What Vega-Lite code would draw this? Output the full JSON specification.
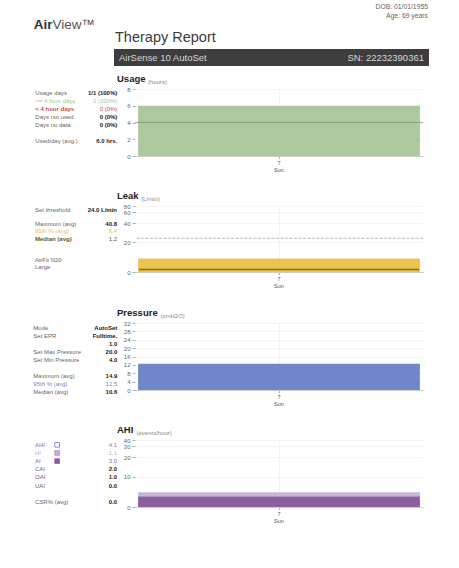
{
  "$schema": "https://vega.github.io/schema/vega-lite/v6.json",
  "background": "white",
  "padding": {"left": 33, "top": 3, "right": 0, "bottom": 0},
  "bounds": "flush",
  "spacing": 86,
  "vconcat": [
    {
      "bounds": "flush",
      "spacing": 42,
      "hconcat": [
        {
          "width": 39,
          "height": 44,
          "layer": [
            {
              "data": {"values": [{"t": "Air"}]},
              "mark": {"type": "text", "align": "right", "baseline": "middle", "fontSize": 13.5, "fontWeight": "bold", "color": "#333333"},
              "encoding": {"text": {"field": "t"}}
            },
            {
              "data": {"values": [{"t": "View™"}]},
              "mark": {"type": "text", "align": "left", "baseline": "middle", "fontSize": 13.5, "color": "#555555"},
              "encoding": {"text": {"field": "t"}}
            }
          ]
        },
        {
          "bounds": "flush",
          "spacing": 26,
          "vconcat": [
            {
              "width": 315,
              "height": 20,
              "data": {"values": [{"line": "DOB: 01/01/1955"}, {"line": "Age: 69 years"}]},
              "mark": {"type": "text", "align": "right", "baseline": "middle", "fontSize": 6.8, "color": "#666666", "dx": -1},
              "encoding": {
                "x": {"value": "width"},
                "y": {"field": "line", "type": "nominal", "scale": {"type": "point", "padding": 0, "domain": ["DOB: 01/01/1955", "Age: 69 years"], "range": [3.7, 13]}, "axis": null},
                "text": {"field": "line"}
              }
            },
            {
              "width": 315,
              "height": 17,
              "view": {"fill": "#3d3d3d"},
              "title": {"text": "Therapy Report", "fontSize": 14.5, "fontWeight": "normal", "color": "#3a3a3a", "offset": 4, "dx": 1},
              "layer": [
                {
                  "data": {"values": [{"t": "AirSense 10 AutoSet"}]},
                  "mark": {"type": "text", "align": "left", "baseline": "middle", "fontSize": 9.5, "color": "#d8d8d8"},
                  "encoding": {"text": {"field": "t"}, "x": {"datum": 0, "type": "quantitative", "scale": {"domain": [0, 1], "range": [5, 310]}, "axis": null}}
                },
                {
                  "data": {"values": [{"t": "SN: 22232390361"}]},
                  "mark": {"type": "text", "align": "right", "baseline": "middle", "fontSize": 9.5, "color": "#d8d8d8"},
                  "encoding": {"text": {"field": "t"}, "x": {"datum": 1, "type": "quantitative", "scale": {"domain": [0, 1], "range": [5, 310]}, "axis": null}}
                }
              ]
            }
          ]
        }
      ]
    },
    {
      "bounds": "flush",
      "spacing": 117,
      "vconcat": [
        {
          "bounds": "flush",
          "spacing": 18,
          "hconcat": [
            {
              "width": 84,
              "height": 67,
              "data": {"values": [
                {"item": "Usage days", "value": "1/1 (100%)", "key": "plain"},
                {"item": ">= 4 hour days", "value": "1 (100%)", "key": "usage-ok"},
                {"item": "< 4 hour days", "value": "0 (0%)", "key": "usage-short"},
                {"item": "Days not used", "value": "0 (0%)", "key": "plain"},
                {"item": "Days no data", "value": "0 (0%)", "key": "plain"},
                {"item": "Used/day (avg.)", "value": "6.0 hrs.", "key": "plain"}
              ]},
              "encoding": {
                "y": {"field": "item", "type": "nominal", "scale": {"type": "point", "padding": 0, "domain": ["Usage days", ">= 4 hour days", "< 4 hour days", "Days not used", "Days no data", "gap", "Used/day (avg.)"], "range": [4.3, 51.7]}, "axis": null}
              },
              "resolve": {"scale": {"color": "independent"}},
              "layer": [
                {
                  "transform": [{"filter": "datum.key != 'usage-short' && datum.key != 'leak-median'"}],
                  "mark": {"type": "text", "align": "left", "baseline": "middle", "fontSize": 6},
                  "encoding": {
                    "x": {"datum": 0, "type": "quantitative", "scale": {"domain": [0, 1], "range": [2.3, 84.3]}, "axis": null},
                    "text": {"field": "item"},
                    "color": {"field": "key", "type": "nominal", "legend": null, "scale": {"domain": ["plain", "usage-ok", "usage-short", "leak-p95", "leak-median", "pressure-p95", "AHI", "HI", "AI"], "range": ["#666666", "#a3c58f", "#c0504d", "#e5c24e", "#5e5a2e", "#6f87c9", "#8a6aa6", "#c2a9d7", "#8a5e9f"]}}
                  }
                },
                {
                  "transform": [{"filter": "datum.key == 'usage-short' || datum.key == 'leak-median'"}],
                  "mark": {"type": "text", "align": "left", "baseline": "middle", "fontSize": 6, "fontWeight": "bold"},
                  "encoding": {
                    "x": {"datum": 0, "type": "quantitative", "scale": {"domain": [0, 1], "range": [2.3, 84.3]}, "axis": null},
                    "text": {"field": "item"},
                    "color": {"field": "key", "type": "nominal", "legend": null, "scale": {"domain": ["plain", "usage-ok", "usage-short", "leak-p95", "leak-median", "pressure-p95", "AHI", "HI", "AI"], "range": ["#666666", "#a3c58f", "#c0504d", "#e5c24e", "#5e5a2e", "#6f87c9", "#8a6aa6", "#c2a9d7", "#8a5e9f"]}}
                  }
                },
                {
                  "transform": [{"filter": "datum.key != 'plain'"}],
                  "mark": {"type": "text", "align": "right", "baseline": "middle", "fontSize": 6},
                  "encoding": {
                    "x": {"datum": 1, "type": "quantitative", "scale": {"domain": [0, 1], "range": [2.3, 84.3]}, "axis": null},
                    "text": {"field": "value"},
                    "color": {"field": "key", "type": "nominal", "legend": null, "scale": {"domain": ["plain", "usage-ok", "usage-short", "leak-p95", "leak-median", "pressure-p95", "AHI", "HI", "AI"], "range": ["#1a1a1a", "#a3c58f", "#c0504d", "#e5c24e", "#555555", "#6f87c9", "#8d7ba3", "#c2a9d7", "#8a6aa6"]}}
                  }
                },
                {
                  "transform": [{"filter": "datum.key == 'plain'"}],
                  "mark": {"type": "text", "align": "right", "baseline": "middle", "fontSize": 6, "fontWeight": "bold", "color": "#1a1a1a"},
                  "encoding": {
                    "x": {"datum": 1, "type": "quantitative", "scale": {"domain": [0, 1], "range": [2.3, 84.3]}, "axis": null},
                    "text": {"field": "value"}
                  }
                }
              ]
            },
            {
              "width": 288,
              "height": 67,
              "title": {"text": "Usage"},
              "data": {"values": [{"day": "7 Sun", "hours": 6.0}]},
              "layer": [
                {
                  "mark": {"type": "bar", "color": "#abc99c"},
                  "encoding": {
                    "x": {"field": "day", "type": "nominal", "title": null, "scale": {"paddingInner": 0, "paddingOuter": 0.011}, "axis": {"labelExpr": "split(datum.label, ' ')"}},
                    "y": {"field": "hours", "type": "quantitative", "title": "(hours)", "scale": {"domain": [0, 8], "nice": false}, "axis": {"values": [0, 2, 4, 6, 8], "titleX": 12.5}}
                  }
                },
                {
                  "mark": {"type": "rule", "color": "#7f9b72", "strokeWidth": 0.8},
                  "encoding": {"y": {"datum": 4, "type": "quantitative", "title": "(hours)", "scale": {"domain": [0, 8], "nice": false}, "axis": {"values": [0, 2, 4, 6, 8], "titleX": 12.5}}}
                }
              ]
            }
          ]
        },
        {
          "bounds": "flush",
          "spacing": 18,
          "hconcat": [
            {
              "width": 84,
              "height": 66,
              "data": {"values": [
                {"item": "Set threshold", "value": "24.0 L/min", "key": "plain"},
                {"item": "Maximum (avg)", "value": "40.8", "key": "plain"},
                {"item": "95th % (avg)", "value": "6.4", "key": "leak-p95"},
                {"item": "Median (avg)", "value": "1.2", "key": "leak-median"},
                {"item": "AirFit N20", "value": "", "key": "plain"},
                {"item": "Large", "value": "", "key": "plain"}
              ]},
              "encoding": {
                "y": {"field": "item", "type": "nominal", "scale": {"type": "point", "padding": 0, "domain": ["Set threshold", "gap1", "Maximum (avg)", "95th % (avg)", "Median (avg)", "gap2", "gap3", "AirFit N20", "Large"], "range": [3.7, 61.3]}, "axis": null}
              },
              "resolve": {"scale": {"color": "independent"}},
              "layer": [
                {
                  "transform": [{"filter": "datum.key != 'usage-short' && datum.key != 'leak-median'"}],
                  "mark": {"type": "text", "align": "left", "baseline": "middle", "fontSize": 6},
                  "encoding": {
                    "x": {"datum": 0, "type": "quantitative", "scale": {"domain": [0, 1], "range": [2, 84]}, "axis": null},
                    "text": {"field": "item"},
                    "color": {"field": "key", "type": "nominal", "legend": null, "scale": {"domain": ["plain", "usage-ok", "usage-short", "leak-p95", "leak-median", "pressure-p95", "AHI", "HI", "AI"], "range": ["#666666", "#a3c58f", "#c0504d", "#e5c24e", "#5e5a2e", "#6f87c9", "#8a6aa6", "#c2a9d7", "#8a5e9f"]}}
                  }
                },
                {
                  "transform": [{"filter": "datum.key == 'usage-short' || datum.key == 'leak-median'"}],
                  "mark": {"type": "text", "align": "left", "baseline": "middle", "fontSize": 6, "fontWeight": "bold"},
                  "encoding": {
                    "x": {"datum": 0, "type": "quantitative", "scale": {"domain": [0, 1], "range": [2, 84]}, "axis": null},
                    "text": {"field": "item"},
                    "color": {"field": "key", "type": "nominal", "legend": null, "scale": {"domain": ["plain", "usage-ok", "usage-short", "leak-p95", "leak-median", "pressure-p95", "AHI", "HI", "AI"], "range": ["#666666", "#a3c58f", "#c0504d", "#e5c24e", "#5e5a2e", "#6f87c9", "#8a6aa6", "#c2a9d7", "#8a5e9f"]}}
                  }
                },
                {
                  "transform": [{"filter": "datum.key != 'plain'"}],
                  "mark": {"type": "text", "align": "right", "baseline": "middle", "fontSize": 6},
                  "encoding": {
                    "x": {"datum": 1, "type": "quantitative", "scale": {"domain": [0, 1], "range": [2, 84]}, "axis": null},
                    "text": {"field": "value"},
                    "color": {"field": "key", "type": "nominal", "legend": null, "scale": {"domain": ["plain", "usage-ok", "usage-short", "leak-p95", "leak-median", "pressure-p95", "AHI", "HI", "AI"], "range": ["#1a1a1a", "#a3c58f", "#c0504d", "#e5c24e", "#555555", "#6f87c9", "#8d7ba3", "#c2a9d7", "#8a6aa6"]}}
                  }
                },
                {
                  "transform": [{"filter": "datum.key == 'plain'"}],
                  "mark": {"type": "text", "align": "right", "baseline": "middle", "fontSize": 6, "fontWeight": "bold", "color": "#1a1a1a"},
                  "encoding": {
                    "x": {"datum": 1, "type": "quantitative", "scale": {"domain": [0, 1], "range": [2, 84]}, "axis": null},
                    "text": {"field": "value"}
                  }
                }
              ]
            },
            {
              "width": 288,
              "height": 66,
              "title": {"text": "Leak"},
              "data": {"values": [{"day": "7 Sun", "p95": 6.4, "median": 1.2}]},
              "layer": [
                {
                  "mark": {"type": "bar", "color": "#ebc44d"},
                  "encoding": {
                    "x": {"field": "day", "type": "nominal", "title": null, "scale": {"paddingInner": 0, "paddingOuter": 0.011}, "axis": {"labelExpr": "split(datum.label, ' ')"}},
                    "y": {"field": "p95", "type": "quantitative", "title": "(L/min)", "scale": {"domain": [0, 10, 20, 40, 60, 80], "range": [66, 45, 36, 17, 6.4, 0], "nice": false, "zero": false}, "axis": {"values": [0, 20, 40, 60, 80], "titleX": 5.5}}
                  }
                },
                {
                  "mark": {"type": "tick", "color": "#5c4c16", "thickness": 1.5, "size": 280},
                  "encoding": {
                    "x": {"field": "day", "type": "nominal", "title": null, "scale": {"paddingInner": 0, "paddingOuter": 0.011}, "axis": {"labelExpr": "split(datum.label, ' ')"}},
                    "y": {"field": "median", "type": "quantitative", "title": "(L/min)", "scale": {"domain": [0, 10, 20, 40, 60, 80], "range": [66, 45, 36, 17, 6.4, 0], "nice": false, "zero": false}, "axis": {"values": [0, 20, 40, 60, 80], "titleX": 5.5}}
                  }
                },
                {
                  "mark": {"type": "rule", "color": "#b8b8b8", "strokeWidth": 1, "strokeDash": [3, 1.5]},
                  "encoding": {"y": {"datum": 24, "type": "quantitative", "title": "(L/min)", "scale": {"domain": [0, 10, 20, 40, 60, 80], "range": [66, 45, 36, 17, 6.4, 0], "nice": false, "zero": false}, "axis": {"values": [0, 20, 40, 60, 80], "titleX": 5.5}}}
                }
              ]
            }
          ]
        },
        {
          "bounds": "flush",
          "spacing": 18,
          "hconcat": [
            {
              "width": 84,
              "height": 67,
              "data": {"values": [
                {"item": "Mode", "value": "AutoSet", "key": "plain"},
                {"item": "Set EPR", "value": "Fulltime,", "key": "plain"},
                {"item": "", "value": "1.0", "key": "plain"},
                {"item": "Set Max Pressure", "value": "20.0", "key": "plain"},
                {"item": "Set Min Pressure", "value": "4.0", "key": "plain"},
                {"item": "Maximum (avg)", "value": "14.9", "key": "plain"},
                {"item": "95th % (avg)", "value": "12.5", "key": "pressure-p95"},
                {"item": "Median (avg)", "value": "10.6", "key": "plain"}
              ]},
              "encoding": {
                "y": {"field": "item", "type": "nominal", "scale": {"type": "point", "padding": 0, "domain": ["Mode", "Set EPR", "", "Set Max Pressure", "Set Min Pressure", "gap", "Maximum (avg)", "95th % (avg)", "Median (avg)"], "range": [4.7, 69.4]}, "axis": null}
              },
              "resolve": {"scale": {"color": "independent"}},
              "layer": [
                {
                  "transform": [{"filter": "datum.key != 'usage-short' && datum.key != 'leak-median'"}],
                  "mark": {"type": "text", "align": "left", "baseline": "middle", "fontSize": 6},
                  "encoding": {
                    "x": {"datum": 0, "type": "quantitative", "scale": {"domain": [0, 1], "range": [0.3, 84.3]}, "axis": null},
                    "text": {"field": "item"},
                    "color": {"field": "key", "type": "nominal", "legend": null, "scale": {"domain": ["plain", "usage-ok", "usage-short", "leak-p95", "leak-median", "pressure-p95", "AHI", "HI", "AI"], "range": ["#666666", "#a3c58f", "#c0504d", "#e5c24e", "#5e5a2e", "#6f87c9", "#8a6aa6", "#c2a9d7", "#8a5e9f"]}}
                  }
                },
                {
                  "transform": [{"filter": "datum.key != 'plain'"}],
                  "mark": {"type": "text", "align": "right", "baseline": "middle", "fontSize": 6},
                  "encoding": {
                    "x": {"datum": 1, "type": "quantitative", "scale": {"domain": [0, 1], "range": [0.3, 84.3]}, "axis": null},
                    "text": {"field": "value"},
                    "color": {"field": "key", "type": "nominal", "legend": null, "scale": {"domain": ["plain", "usage-ok", "usage-short", "leak-p95", "leak-median", "pressure-p95", "AHI", "HI", "AI"], "range": ["#1a1a1a", "#a3c58f", "#c0504d", "#e5c24e", "#555555", "#6f87c9", "#8d7ba3", "#c2a9d7", "#8a6aa6"]}}
                  }
                },
                {
                  "transform": [{"filter": "datum.key == 'plain'"}],
                  "mark": {"type": "text", "align": "right", "baseline": "middle", "fontSize": 6, "fontWeight": "bold", "color": "#1a1a1a"},
                  "encoding": {
                    "x": {"datum": 1, "type": "quantitative", "scale": {"domain": [0, 1], "range": [0.3, 84.3]}, "axis": null},
                    "text": {"field": "value"}
                  }
                }
              ]
            },
            {
              "width": 288,
              "height": 67,
              "title": {"text": "Pressure"},
              "data": {"values": [{"day": "7 Sun", "p95": 12.5}]},
              "mark": {"type": "bar", "color": "#6f87c9"},
              "encoding": {
                "x": {"field": "day", "type": "nominal", "title": null, "scale": {"paddingInner": 0, "paddingOuter": 0.011}, "axis": {"labelExpr": "split(datum.label, ' ')"}},
                "y": {"field": "p95", "type": "quantitative", "title": "(cmH2O)", "scale": {"domain": [0, 32], "nice": false}, "axis": {"values": [0, 4, 8, 12, 16, 20, 24, 28, 32], "titleX": 25}}
              }
            }
          ]
        },
        {
          "bounds": "flush",
          "spacing": 18,
          "hconcat": [
            {
              "width": 84,
              "height": 67,
              "data": {"values": [
                {"item": "AHI", "value": "4.1", "key": "AHI"},
                {"item": "HI", "value": "1.1", "key": "HI"},
                {"item": "AI", "value": "3.0", "key": "AI"},
                {"item": "CAI", "value": "2.0", "key": "plain"},
                {"item": "OAI", "value": "1.0", "key": "plain"},
                {"item": "UAI", "value": "0.0", "key": "plain"},
                {"item": "CSR% (avg)", "value": "0.0", "key": "plain"}
              ]},
              "encoding": {
                "y": {"field": "item", "type": "nominal", "scale": {"type": "point", "padding": 0, "domain": ["AHI", "HI", "AI", "CAI", "OAI", "UAI", "gap", "CSR% (avg)"], "range": [4.8, 61.8]}, "axis": null}
              },
              "resolve": {"scale": {"color": "independent", "fill": "independent", "stroke": "independent"}},
              "layer": [
                {
                  "transform": [{"filter": "datum.key != 'usage-short' && datum.key != 'leak-median'"}],
                  "mark": {"type": "text", "align": "left", "baseline": "middle", "fontSize": 6},
                  "encoding": {
                    "x": {"datum": 0, "type": "quantitative", "scale": {"domain": [0, 1], "range": [2, 84]}, "axis": null},
                    "text": {"field": "item"},
                    "color": {"field": "key", "type": "nominal", "legend": null, "scale": {"domain": ["plain", "usage-ok", "usage-short", "leak-p95", "leak-median", "pressure-p95", "AHI", "HI", "AI"], "range": ["#666666", "#a3c58f", "#c0504d", "#e5c24e", "#5e5a2e", "#6f87c9", "#8a6aa6", "#c2a9d7", "#8a5e9f"]}}
                  }
                },
                {
                  "transform": [{"filter": "datum.key == 'AHI' || datum.key == 'HI' || datum.key == 'AI'"}],
                  "mark": {"type": "point", "shape": "square", "size": 22, "filled": true, "strokeWidth": 0.8, "opacity": 1},
                  "encoding": {
                    "x": {"datum": 0.27, "type": "quantitative", "scale": {"domain": [0, 1], "range": [2, 84]}, "axis": null},
                    "fill": {"field": "key", "type": "nominal", "legend": null, "scale": {"domain": ["AHI", "HI", "AI"], "range": ["#ffffff", "#c9b4dd", "#8a5e9f"]}},
                    "stroke": {"field": "key", "type": "nominal", "legend": null, "scale": {"domain": ["AHI", "HI", "AI"], "range": ["#8a6aa6", "#a98cc4", "#8a5e9f"]}}
                  }
                },
                {
                  "transform": [{"filter": "datum.key != 'plain'"}],
                  "mark": {"type": "text", "align": "right", "baseline": "middle", "fontSize": 6},
                  "encoding": {
                    "x": {"datum": 1, "type": "quantitative", "scale": {"domain": [0, 1], "range": [2, 84]}, "axis": null},
                    "text": {"field": "value"},
                    "color": {"field": "key", "type": "nominal", "legend": null, "scale": {"domain": ["plain", "usage-ok", "usage-short", "leak-p95", "leak-median", "pressure-p95", "AHI", "HI", "AI"], "range": ["#1a1a1a", "#a3c58f", "#c0504d", "#e5c24e", "#555555", "#6f87c9", "#8d7ba3", "#c2a9d7", "#8a6aa6"]}}
                  }
                },
                {
                  "transform": [{"filter": "datum.key == 'plain'"}],
                  "mark": {"type": "text", "align": "right", "baseline": "middle", "fontSize": 6, "fontWeight": "bold", "color": "#1a1a1a"},
                  "encoding": {
                    "x": {"datum": 1, "type": "quantitative", "scale": {"domain": [0, 1], "range": [2, 84]}, "axis": null},
                    "text": {"field": "value"}
                  }
                }
              ]
            },
            {
              "width": 288,
              "height": 67,
              "title": {"text": "AHI"},
              "data": {"values": [
                {"day": "7 Sun", "index": "AI", "rate": 3.0},
                {"day": "7 Sun", "index": "HI", "rate": 1.1}
              ]},
              "mark": {"type": "bar"},
              "encoding": {
                "x": {"field": "day", "type": "nominal", "title": null, "scale": {"paddingInner": 0, "paddingOuter": 0.011}, "axis": {"labelExpr": "split(datum.label, ' ')"}},
                "y": {"field": "rate", "type": "quantitative", "stack": "zero", "title": "(events/hour)", "scale": {"domain": [0, 5, 10, 20, 30, 40], "range": [67, 49, 36.7, 17, 6, 0], "nice": false, "zero": false}, "axis": {"values": [0, 10, 20, 30, 40], "titleX": 1}},
                "color": {"field": "index", "type": "nominal", "legend": null, "scale": {"domain": ["AI", "HI"], "range": ["#8a5e9f", "#c9b4dd"]}},
                "order": {"field": "index", "sort": "ascending"}
              }
            }
          ]
        }
      ]
    }
  ],
  "config": {
    "font": "Liberation Sans",
    "view": {"stroke": null},
    "title": {"anchor": "start", "frame": "group", "fontSize": 9.5, "fontWeight": "bold", "color": "#222222", "offset": -5.5, "dx": -18},
    "axis": {"labelColor": "#666666", "labelFontSize": 6, "tickColor": "#999999", "tickSize": 3, "tickWidth": 0.8, "domainColor": "#cccccc", "gridColor": "#f0f0f0", "gridWidth": 0.8, "labelOverlap": false},
    "axisX": {"labelAngle": 0, "labelFontSize": 5.5, "labelLineHeight": 6.5, "labelPadding": 2, "bandPosition": 0.5, "grid": true, "tickSize": 2.5, "labelColor": "#555555"},
    "axisY": {"domain": false, "labelPadding": 2, "grid": true, "titleAngle": 0, "titleAlign": "left", "titleBaseline": "alphabetic", "titleY": -6, "titleFontSize": 6, "titleFontWeight": "normal", "titleColor": "#888888"}
  }
}
